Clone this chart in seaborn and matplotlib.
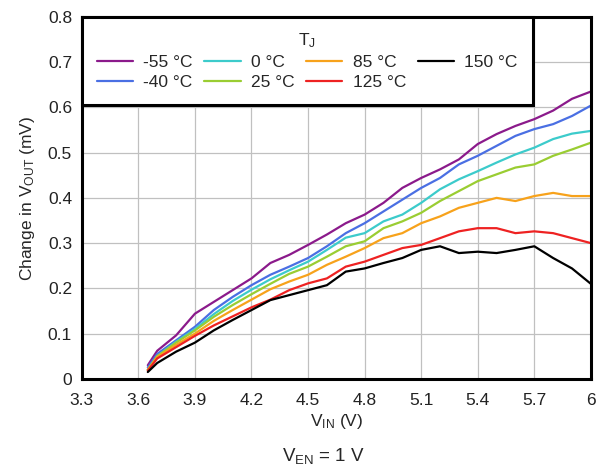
import numpy as np
import pandas as pd
import matplotlib
matplotlib.use("Agg")
import matplotlib.pyplot as plt
import seaborn as sns

vin = [3.65, 3.7, 3.8, 3.9, 4.0, 4.1, 4.2, 4.3, 4.4, 4.5, 4.6, 4.7, 4.8, 4.9,
       5.0, 5.1, 5.2, 5.3, 5.4, 5.5, 5.6, 5.7, 5.8, 5.9, 6.0]

t_m55 = [0.030, 0.062, 0.096, 0.144, 0.170, 0.196, 0.222, 0.256, 0.274, 0.296, 0.319, 0.344, 0.363,
         0.389, 0.422, 0.444, 0.463, 0.485, 0.519, 0.541, 0.559, 0.574, 0.593, 0.619, 0.635]
t_m40 = [0.025, 0.055, 0.085, 0.115, 0.152, 0.181, 0.207, 0.230, 0.248, 0.267, 0.293, 0.322, 0.344,
         0.370, 0.396, 0.422, 0.444, 0.474, 0.493, 0.515, 0.537, 0.552, 0.563, 0.581, 0.604]
t_0 = [0.020, 0.050, 0.082, 0.110, 0.143, 0.172, 0.197, 0.220, 0.240, 0.259, 0.285, 0.312, 0.322,
       0.348, 0.363, 0.389, 0.419, 0.441, 0.459, 0.478, 0.496, 0.511, 0.530, 0.542, 0.548]
t_25 = [0.020, 0.050, 0.080, 0.107, 0.137, 0.163, 0.187, 0.210, 0.232, 0.248, 0.270, 0.293, 0.304,
        0.333, 0.348, 0.367, 0.393, 0.415, 0.437, 0.452, 0.467, 0.474, 0.493, 0.507, 0.522]
t_85 = [0.020, 0.048, 0.075, 0.100, 0.128, 0.152, 0.175, 0.198, 0.215, 0.230, 0.252, 0.270, 0.289,
        0.311, 0.322, 0.344, 0.359, 0.378, 0.389, 0.400, 0.393, 0.404, 0.411, 0.404, 0.404]
t_125 = [0.018, 0.045, 0.070, 0.095, 0.118, 0.138, 0.158, 0.175, 0.196, 0.211, 0.222, 0.248, 0.259,
         0.274, 0.289, 0.296, 0.311, 0.326, 0.333, 0.333, 0.322, 0.326, 0.322, 0.311, 0.300]
t_150 = [0.015, 0.035, 0.060, 0.080, 0.107, 0.130, 0.152, 0.174, 0.185, 0.196, 0.207, 0.237, 0.244,
         0.256, 0.267, 0.285, 0.293, 0.278, 0.281, 0.278, 0.285, 0.293, 0.267, 0.244, 0.210]

series_names = ["-55 °C", "-40 °C", "0 °C", "25 °C", "85 °C", "125 °C", "150 °C"]
series_vals = [t_m55, t_m40, t_0, t_25, t_85, t_125, t_150]
colors = ["#8B1A8B", "#4A6FE3", "#3CCBCB", "#9ACD32", "#F7A21B", "#EE2222", "#000000"]

x_ticks = [3.3, 3.6, 3.9, 4.2, 4.5, 4.8, 5.1, 5.4, 5.7, 6.0]
x_tick_labels = ["3.3", "3.6", "3.9", "4.2", "4.5", "4.8", "5.1", "5.4", "5.7", "6"]
y_ticks = [0, 0.1, 0.2, 0.3, 0.4, 0.5, 0.6, 0.7, 0.8]
y_tick_labels = ["0", "0.1", "0.2", "0.3", "0.4", "0.5", "0.6", "0.7", "0.8"]

rows = []
for name, vals in zip(series_names, series_vals):
    for x, y in zip(vin, vals):
        rows.append({"vin": x, "dv": y, "T": name})
df = pd.DataFrame(rows)

sns.set_style("white")
plt.rcParams["font.family"] = ["Liberation Sans", "DejaVu Sans"]
plt.rcParams["mathtext.fontset"] = "custom"
plt.rcParams["mathtext.rm"] = "Liberation Sans"

FS = 12.5

fig = plt.figure(figsize=(6.06, 4.70), dpi=100)
ax = fig.add_axes([0.135, 0.194, 0.840, 0.770])

sns.lineplot(data=df, x="vin", y="dv", hue="T", hue_order=series_names,
             palette=dict(zip(series_names, colors)), linewidth=1.6, ax=ax)

ax.set_xlim(3.3, 6.0)
ax.set_ylim(0, 0.8)
ax.set_xticks(x_ticks)
ax.set_xticklabels(x_tick_labels, fontsize=FS)
ax.set_yticks(y_ticks)
ax.set_yticklabels(y_tick_labels, fontsize=FS)
ax.grid(True, color="#c0c0c0", linewidth=0.9)
ax.set_axisbelow(True)
for sp in ax.spines.values():
    sp.set_color("black")
    sp.set_linewidth(2.2)
ax.tick_params(axis="x", length=0, pad=10, colors="#222222")
ax.tick_params(axis="y", length=0, pad=7, colors="#222222")

ax.set_xlabel("$\\mathregular{V_{IN}}$ (V)", fontsize=FS, labelpad=3)
ax.set_ylabel("Change in $\\mathregular{V_{OUT}}$ (mV)", fontsize=FS, labelpad=8)

handles, labels = ax.get_legend_handles_labels()
leg = ax.legend(handles, labels, ncol=4, loc="upper left", bbox_to_anchor=(0.0, 1.0),
                title="$\\mathregular{T_J}$", fontsize=FS, title_fontsize=FS,
                frameon=True, fancybox=False, borderaxespad=0.0,
                handlelength=2.1, columnspacing=0.65, handletextpad=0.6,
                labelspacing=0.28, borderpad=0.85)
leg.get_frame().set_edgecolor("black")
leg.get_frame().set_linewidth(2.2)
leg.get_frame().set_alpha(1)

fig.text(0.533, 0.030, "$\\mathregular{V_{EN}}$ = 1 V", ha="center", va="center", fontsize=FS + 1)

fig.savefig("out.png", dpi=100)
